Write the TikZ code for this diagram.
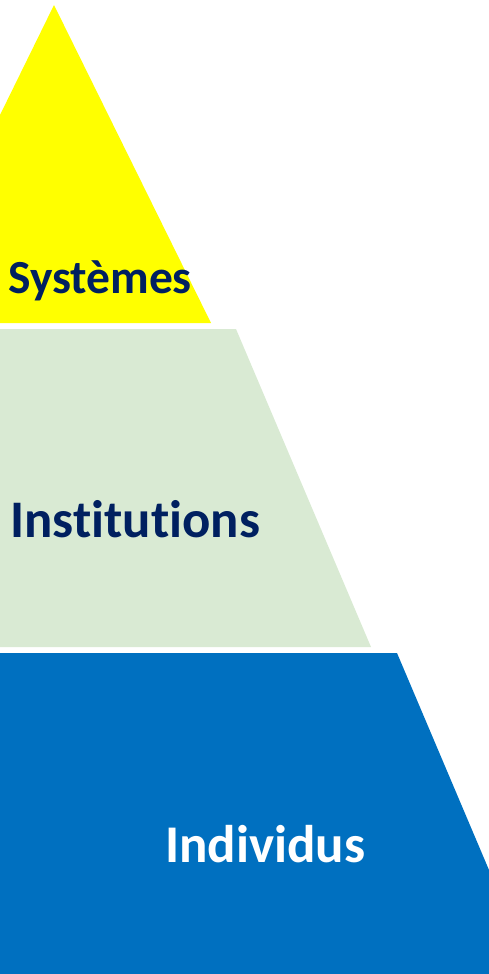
\documentclass[tikz,border=0pt]{standalone}
\usepackage{fontspec}
\setmainfont{Carlito}[Ligatures={NoCommon,NoRequired,NoContextual}]
\definecolor{pyryellow}{HTML}{FFFF00}
\definecolor{pyrgreen}{HTML}{D9EAD3}
\definecolor{pyrblue}{HTML}{0070C0}
\definecolor{navy}{HTML}{002060}
\begin{document}
\begin{tikzpicture}[x=1pt,y=-1pt,
  lbl/.style={anchor=base west,inner sep=0pt,font=\bfseries}]
\useasboundingbox (0,0) rectangle (489,974);
\fill[pyryellow] (0,115) -- (54,5) -- (211,323) -- (0,323) -- cycle;
\fill[pyrgreen] (0,329) -- (236,329) -- (371,647) -- (0,647) -- cycle;
\fill[pyrblue] (0,653) -- (397,653) -- (489,870) -- (489,974) -- (0,974) -- cycle;
\node[lbl,text=navy,font=\bfseries\fontsize{47.5}{50}\selectfont] (sys) at (8,293) {Systèmes};
\node[lbl,text=navy,font=\bfseries\fontsize{52.8}{56}\selectfont] (inst) at (10,537) {Institutions};
\node[lbl,text=white,font=\bfseries\fontsize{53}{56}\selectfont] (ind) at (165,862) {Individus};
\end{tikzpicture}
\end{document}
